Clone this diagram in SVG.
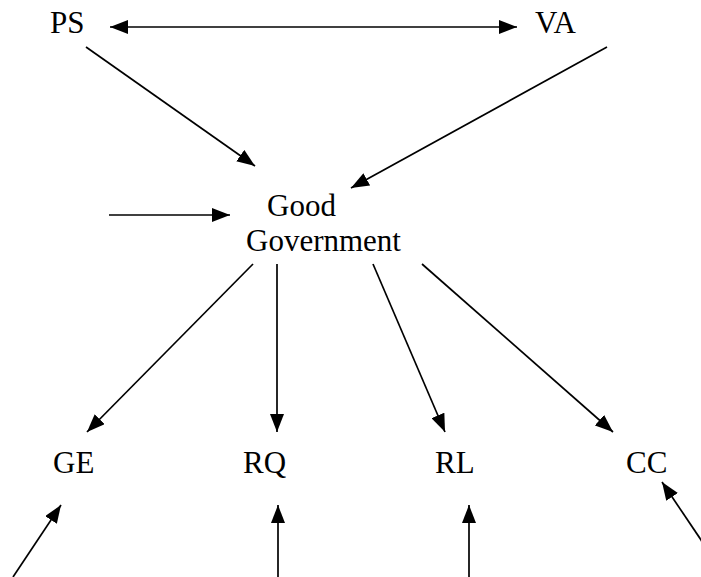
<svg xmlns="http://www.w3.org/2000/svg" width="701" height="577" viewBox="0 0 701 577">
<style>
text{font-family:'Liberation Serif','Times New Roman',serif;font-size:31px;fill:#000}
.c line{stroke:#000;stroke-width:1.7}
</style>
<defs>
<marker id="a" markerUnits="userSpaceOnUse" markerWidth="18" markerHeight="14" viewBox="0 0 18 14" refX="18" refY="7" orient="auto-start-reverse"><path d="M0,0 L18,7 L0,14 z" fill="#000"/></marker>
</defs>
<rect width="701" height="577" fill="#fff"/>
<g id="PS"><text x="50" y="33">PS</text></g>
<g id="VA"><text x="535" y="33">VA</text></g>
<g id="GoodGovernment"><text x="267" y="216">Good</text><text x="246" y="251">Government</text></g>
<g id="GE"><text x="53" y="473">GE</text></g>
<g id="RQ"><text x="243" y="473">RQ</text></g>
<g id="RL"><text x="435" y="473">RL</text></g>
<g id="CC"><text x="626" y="473">CC</text></g>
<g class="c" id="connectors">
<line x1="110" y1="27" x2="517" y2="27" marker-start="url(#a)" marker-end="url(#a)"/>
<line x1="86" y1="47" x2="255" y2="166" marker-end="url(#a)"/>
<line x1="607" y1="47" x2="351" y2="188" marker-end="url(#a)"/>
<line x1="109" y1="215" x2="230" y2="215" marker-end="url(#a)"/>
<line x1="253" y1="264" x2="87" y2="432" marker-end="url(#a)"/>
<line x1="277" y1="264" x2="277" y2="432" marker-end="url(#a)"/>
<line x1="373" y1="264" x2="445" y2="432" marker-end="url(#a)"/>
<line x1="422" y1="264" x2="613" y2="432" marker-end="url(#a)"/>
<line x1="13" y1="577" x2="61" y2="505" marker-end="url(#a)"/>
<line x1="278" y1="577" x2="278" y2="505" marker-end="url(#a)"/>
<line x1="469" y1="577" x2="469" y2="505" marker-end="url(#a)"/>
<line x1="726" y1="577" x2="662" y2="482" marker-end="url(#a)"/>
</g>
</svg>
